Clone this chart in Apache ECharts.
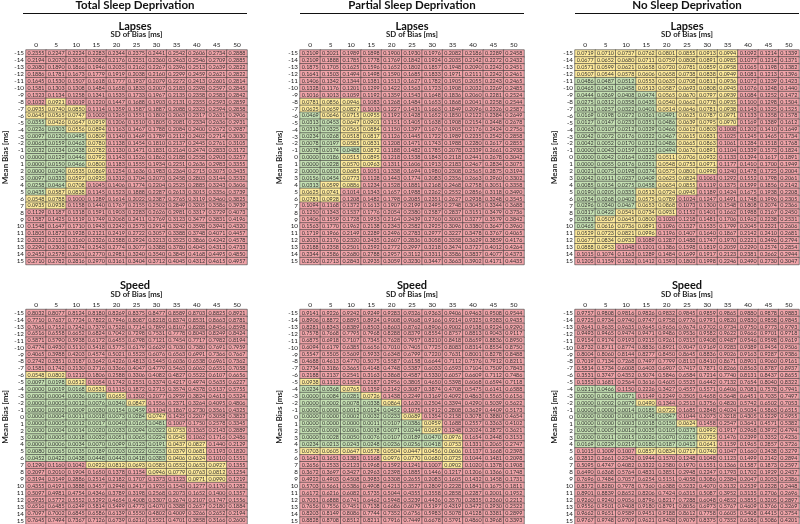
<!DOCTYPE html>
<html><head><meta charset="utf-8">
<script src="https://cdn.jsdelivr.net/npm/echarts@6/dist/echarts.min.js"></script>
<style>html,body{margin:0;padding:0;background:#fff}#c{width:800px;height:524px}</style>
</head><body><div id="c"></div>
<script>
const sdBias = ['0','5','10','15','20','25','30','35','40','45','50'];
const meanBias = ['-15','-14','-13','-12','-11','-10','-9','-8','-7','-6','-5','-4','-3','-2','-1','0','1','2','3','4','5','6','7','8','9','10','11','12','13','14','15'];
const groupTitles = ['Total Sleep Deprivation','Partial Sleep Deprivation','No Sleep Deprivation'];
const measureTitles = ['Lapses','Speed'];

// ---------- Total Sleep Deprivation : Lapses ----------
const tsdLapses = [
[0.2355,0.2247,0.2224,0.2283,0.2344,0.2375,0.2441,0.2542,0.2606,0.2734,0.2888],
[0.2194,0.2070,0.2051,0.2086,0.2176,0.2251,0.2360,0.2463,0.2546,0.2709,0.2885],
[0.2080,0.1890,0.1866,0.1946,0.2035,0.2162,0.2267,0.2396,0.2513,0.2639,0.2822],
[0.1886,0.1781,0.1673,0.1779,0.1919,0.2038,0.2160,0.2299,0.2459,0.2621,0.2822],
[0.1645,0.1530,0.1507,0.1618,0.1777,0.1937,0.2079,0.2272,0.2413,0.2601,0.2814],
[0.1581,0.1303,0.1308,0.1484,0.1658,0.1833,0.2007,0.2183,0.2398,0.2597,0.2845],
[0.1323,0.1134,0.1258,0.1341,0.1535,0.1733,0.1967,0.2135,0.2358,0.2583,0.2842],
[0.1032,0.0921,0.1019,0.1220,0.1447,0.1688,0.1903,0.2131,0.2355,0.2593,0.2859],
[0.0935,0.0740,0.0850,0.1114,0.1359,0.1587,0.1887,0.2088,0.2323,0.2594,0.2858],
[0.0645,0.0565,0.0747,0.1002,0.1265,0.1551,0.1802,0.2063,0.2317,0.2631,0.2906],
[0.0355,0.0426,0.0647,0.0919,0.1206,0.1510,0.1805,0.2081,0.2334,0.2636,0.2931],
[0.0226,0.0303,0.0556,0.0894,0.1163,0.1467,0.1788,0.2084,0.2400,0.2672,0.2987],
[0.0097,0.0120,0.0495,0.0809,0.1140,0.1469,0.1789,0.2112,0.2402,0.2714,0.3030],
[0.0065,0.0159,0.0463,0.0780,0.1138,0.1454,0.1810,0.2137,0.2445,0.2761,0.3105],
[0.0032,0.0134,0.0438,0.0782,0.1130,0.1471,0.1831,0.2164,0.2474,0.2833,0.3172],
[0.0000,0.0129,0.0446,0.0792,0.1143,0.1526,0.1862,0.2188,0.2558,0.2903,0.3257],
[0.0000,0.0150,0.0466,0.0800,0.1183,0.1555,0.1934,0.2251,0.2636,0.2983,0.3355],
[0.0000,0.0240,0.0535,0.0869,0.1254,0.1636,0.1983,0.2364,0.2715,0.3075,0.3435],
[0.0097,0.0333,0.0597,0.0935,0.1312,0.1704,0.2073,0.2458,0.2803,0.3144,0.3532],
[0.0258,0.0464,0.0708,0.1045,0.1406,0.1774,0.2204,0.2525,0.2885,0.3243,0.3606],
[0.0435,0.0587,0.0838,0.1145,0.1523,0.1888,0.2287,0.2613,0.3015,0.3356,0.3739],
[0.0548,0.0788,0.1000,0.1289,0.1614,0.2022,0.2387,0.2765,0.3119,0.3460,0.3825],
[0.0935,0.0938,0.1158,0.1440,0.1767,0.2155,0.2502,0.2849,0.3205,0.3586,0.3939],
[0.1129,0.1187,0.1318,0.1591,0.1903,0.2283,0.2626,0.2981,0.3317,0.3729,0.4073],
[0.1387,0.1425,0.1519,0.1749,0.2068,0.2411,0.2769,0.3123,0.3477,0.3831,0.4196],
[0.1548,0.1647,0.1710,0.1943,0.2242,0.2573,0.2914,0.3242,0.3598,0.3941,0.4320],
[0.1805,0.1872,0.1928,0.2121,0.2419,0.2722,0.3057,0.3388,0.3748,0.4071,0.4457],
[0.2032,0.2131,0.2160,0.2326,0.2588,0.2924,0.3213,0.3525,0.3866,0.4242,0.4578],
[0.2290,0.2303,0.2374,0.2543,0.2774,0.3077,0.3388,0.3780,0.4045,0.4313,0.4733],
[0.2452,0.2578,0.2601,0.2770,0.2981,0.3240,0.3540,0.3845,0.4168,0.4495,0.4850],
[0.2710,0.2782,0.2816,0.2970,0.3161,0.3404,0.3712,0.4045,0.4312,0.4615,0.4957]];
const tsdLapsesClass = ['RRRRRRRRRRR','RRRRRRRRRRR','RRRRRRRRRRR','RRRRRRRRRRR','RRRRRRRRRRR','RRRRRRRRRRR','RRRRRRRRRRR',
'RYRRRRRRRRR','YYYRRRRRRRR','YYYRRRRRRRR','GYYYRRRRRRR','GGYYRRRRRRR','GGGYRRRRRRR','GGGYRRRRRRR','GGGYRRRRRRR',
'GGGYRRRRRRR','GGGYRRRRRRR','GGYYRRRRRRR','GGYYRRRRRRR','GGYRRRRRRRR','GYYRRRRRRRR','YYRRRRRRRRR','YYRRRRRRRRR',
'RRRRRRRRRRR','RRRRRRRRRRR','RRRRRRRRRRR','RRRRRRRRRRR','RRRRRRRRRRR','RRRRRRRRRRR','RRRRRRRRRRR','RRRRRRRRRRR'];

// ---------- Partial Sleep Deprivation : Lapses ----------
const psdLapses = [
[0.2109,0.2021,0.1989,0.1898,0.1900,0.1930,0.1976,0.2082,0.2186,0.2289,0.2458],
[0.2109,0.1888,0.1785,0.1778,0.1769,0.1842,0.1924,0.2035,0.2142,0.2272,0.2432],
[0.1875,0.1705,0.1625,0.1596,0.1652,0.1802,0.1857,0.1948,0.2090,0.2242,0.2451],
[0.1641,0.1503,0.1494,0.1498,0.1590,0.1685,0.1833,0.1971,0.2111,0.2242,0.2461],
[0.1406,0.1342,0.1344,0.1381,0.1513,0.1627,0.1782,0.1905,0.2055,0.2243,0.2465],
[0.1328,0.1176,0.1201,0.1299,0.1422,0.1563,0.1723,0.1908,0.2032,0.2269,0.2485],
[0.1016,0.1013,0.1059,0.1192,0.1359,0.1543,0.1648,0.1836,0.2060,0.2281,0.2524],
[0.0781,0.0856,0.0946,0.1083,0.1268,0.1484,0.1653,0.1868,0.2041,0.2258,0.2544],
[0.0625,0.0659,0.0827,0.1013,0.1227,0.1431,0.1663,0.1849,0.2096,0.2326,0.2587],
[0.0469,0.0646,0.0715,0.0955,0.1192,0.1428,0.1652,0.1850,0.2122,0.2384,0.2649],
[0.0313,0.0453,0.0647,0.0901,0.1151,0.1405,0.1638,0.1908,0.2154,0.2448,0.2678],
[0.0313,0.0325,0.0565,0.0884,0.1150,0.1397,0.1676,0.1905,0.2176,0.2424,0.2756],
[0.0234,0.0268,0.0518,0.0817,0.1126,0.1445,0.1722,0.1989,0.2235,0.2542,0.2858],
[0.0078,0.0197,0.0585,0.0831,0.1208,0.1471,0.1743,0.1988,0.2280,0.2617,0.2855],
[0.0078,0.0174,0.0488,0.0872,0.1188,0.1482,0.1785,0.2078,0.2339,0.2661,0.2938],
[0.0000,0.0186,0.0515,0.0895,0.1218,0.1538,0.1843,0.2118,0.2441,0.2678,0.3042],
[0.0000,0.0228,0.0570,0.0963,0.1311,0.1606,0.1913,0.2183,0.2467,0.2834,0.3075],
[0.0000,0.0310,0.0685,0.1051,0.1338,0.1694,0.1980,0.2308,0.2565,0.2875,0.3194],
[0.0156,0.0454,0.0773,0.1128,0.1443,0.1774,0.2083,0.2356,0.2663,0.2960,0.3302],
[0.0313,0.0599,0.0886,0.1234,0.1528,0.1881,0.2168,0.2468,0.2758,0.3051,0.3358],
[0.0625,0.0741,0.1014,0.1343,0.1657,0.1988,0.2262,0.2552,0.2856,0.3118,0.3490],
[0.0781,0.0928,0.1208,0.1482,0.1798,0.2085,0.2351,0.2627,0.2938,0.3248,0.3545],
[0.1094,0.1168,0.1372,0.1613,0.1907,0.2199,0.2495,0.2748,0.3045,0.3344,0.3688],
[0.1250,0.1343,0.1537,0.1776,0.2054,0.2380,0.2587,0.2837,0.3151,0.3479,0.3736],
[0.1406,0.1559,0.1728,0.1953,0.2164,0.2439,0.2760,0.3003,0.3277,0.3579,0.3842],
[0.1563,0.1770,0.1962,0.2138,0.2343,0.2582,0.2925,0.3096,0.3380,0.3647,0.3960],
[0.1719,0.1966,0.2149,0.2289,0.2496,0.2783,0.2977,0.3227,0.3478,0.3767,0.4065],
[0.2031,0.2176,0.2320,0.2435,0.2607,0.2836,0.3058,0.3358,0.3629,0.3859,0.4176],
[0.2188,0.2358,0.2501,0.2592,0.2772,0.2997,0.3218,0.3474,0.3727,0.4012,0.4264],
[0.2344,0.2586,0.2680,0.2788,0.2957,0.3112,0.3311,0.3586,0.3837,0.4077,0.4373],
[0.2500,0.2713,0.2843,0.2935,0.3059,0.3230,0.3447,0.3663,0.3902,0.4171,0.4435]];
const psdLapsesClass = ['RRRRRRRRRRR','RRRRRRRRRRR','RRRRRRRRRRR','RRRRRRRRRRR','RRRRRRRRRRR','RRRRRRRRRRR','RRRRRRRRRRR',
'YYYRRRRRRRR','YYYRRRRRRRR','GYYYRRRRRRR','GGYYRRRRRRR','GGYYRRRRRRR','GGYYRRRRRRR','GGYYRRRRRRR','GGGYRRRRRRR',
'GGYYRRRRRRR','GGYYRRRRRRR','GGYRRRRRRRR','GGYRRRRRRRR','GYYRRRRRRRR','YYRRRRRRRRR','YYRRRRRRRRR','RRRRRRRRRRR',
'RRRRRRRRRRR','RRRRRRRRRRR','RRRRRRRRRRR','RRRRRRRRRRR','RRRRRRRRRRR','RRRRRRRRRRR','RRRRRRRRRRR','RRRRRRRRRRR'];

// ---------- No Sleep Deprivation : Lapses ----------
const nsdLapses = [
[0.0719,0.0710,0.0737,0.0762,0.0801,0.0855,0.0913,0.0994,0.1092,0.1214,0.1339],
[0.0677,0.0652,0.0680,0.0711,0.0759,0.0808,0.0891,0.0985,0.1077,0.1214,0.1371],
[0.0571,0.0599,0.0621,0.0658,0.0720,0.0781,0.0859,0.0958,0.1065,0.1198,0.1382],
[0.0507,0.0544,0.0578,0.0606,0.0658,0.0738,0.0838,0.0949,0.1081,0.1213,0.1396],
[0.0486,0.0487,0.0512,0.0553,0.0635,0.0708,0.0811,0.0936,0.1072,0.1239,0.1423],
[0.0465,0.0431,0.0458,0.0513,0.0587,0.0693,0.0808,0.0945,0.1076,0.1248,0.1440],
[0.0444,0.0369,0.0408,0.0474,0.0565,0.0670,0.0797,0.0939,0.1084,0.1252,0.1472],
[0.0275,0.0312,0.0358,0.0435,0.0540,0.0662,0.0778,0.0935,0.1100,0.1298,0.1504],
[0.0211,0.0257,0.0322,0.0401,0.0514,0.0646,0.0781,0.0938,0.1143,0.1325,0.1525],
[0.0169,0.0198,0.0272,0.0361,0.0491,0.0625,0.0787,0.0971,0.1133,0.1358,0.1578],
[0.0127,0.0147,0.0233,0.0351,0.0486,0.0639,0.0795,0.0970,0.1169,0.1389,0.1612],
[0.0063,0.0107,0.0212,0.0329,0.0466,0.0612,0.0803,0.1008,0.1202,0.1410,0.1649],
[0.0042,0.0072,0.0176,0.0322,0.0467,0.0615,0.0831,0.1025,0.1245,0.1465,0.1734],
[0.0042,0.0052,0.0170,0.0312,0.0486,0.0665,0.0863,0.1061,0.1284,0.1518,0.1768],
[0.0000,0.0043,0.0159,0.0315,0.0494,0.0676,0.0891,0.1104,0.1339,0.1573,0.1824],
[0.0000,0.0042,0.0164,0.0323,0.0511,0.0706,0.0932,0.1133,0.1394,0.1617,0.1891],
[0.0000,0.0055,0.0176,0.0351,0.0548,0.0753,0.0971,0.1177,0.1410,0.1700,0.1949],
[0.0021,0.0075,0.0198,0.0374,0.0575,0.0801,0.0998,0.1240,0.1478,0.1725,0.2004],
[0.0042,0.0111,0.0237,0.0409,0.0625,0.0824,0.1061,0.1292,0.1552,0.1798,0.2061],
[0.0085,0.0154,0.0275,0.0458,0.0654,0.0855,0.1119,0.1375,0.1599,0.1856,0.2142],
[0.0190,0.0205,0.0335,0.0513,0.0724,0.0945,0.1189,0.1424,0.1675,0.1938,0.2208],
[0.0254,0.0268,0.0402,0.0575,0.0789,0.1024,0.1247,0.1491,0.1748,0.1996,0.2305],
[0.0296,0.0340,0.0467,0.0653,0.0868,0.1073,0.1300,0.1548,0.1808,0.2074,0.2366],
[0.0317,0.0422,0.0541,0.0734,0.0931,0.1152,0.1401,0.1662,0.1988,0.2167,0.2450],
[0.0381,0.0507,0.0645,0.0800,0.1020,0.1218,0.1481,0.1706,0.1962,0.2238,0.2531],
[0.0465,0.0616,0.0736,0.0891,0.1096,0.1327,0.1535,0.1799,0.2045,0.2321,0.2606],
[0.0529,0.0723,0.0821,0.0996,0.1196,0.1407,0.1640,0.1867,0.2142,0.2410,0.2681],
[0.0677,0.0834,0.0933,0.1089,0.1287,0.1488,0.1747,0.1970,0.2221,0.2496,0.2794],
[0.0888,0.0953,0.1048,0.1201,0.1386,0.1598,0.1819,0.2059,0.2290,0.2574,0.2854],
[0.1015,0.1074,0.1163,0.1289,0.1484,0.1699,0.1917,0.2123,0.2381,0.2662,0.2944],
[0.1205,0.1159,0.1262,0.1412,0.1593,0.1803,0.1998,0.2246,0.2490,0.2730,0.3047]];
const nsdLapsesClass = ['YYYYYYYYRRR','YYYYYYYYRRR','YYYYYYYYRRR','YYYYYYYYRRR','GGGYYYYYRRR','GGGYYYYYRRR','GGGGYYYYRRR',
'GGGGYYYYRRR','GGGGYYYYRRR','GGGGGYYYRRR','GGGGGYYYRRR','GGGGGYYRRRR','GGGGGYYRRRR','GGGGGYYRRRR','GGGGGYYRRRR',
'GGGGYYYRRRR','GGGGYYYRRRR','GGGGYYYRRRR','GGGGYYRRRRR','GGGGYYRRRRR','GGGYYYRRRRR','GGGYYRRRRRR','GGGYYRRRRRR',
'GGYYYRRRRRR','GYYYRRRRRRR','GYYYRRRRRRR','YYYYRRRRRRR','YYYRRRRRRRR','YYRRRRRRRRR','RRRRRRRRRRR','RRRRRRRRRRR'];

// ---------- Total Sleep Deprivation : Speed ----------
const tsdSpeed = [
[0.8032,0.8077,0.8124,0.8180,0.8269,0.8375,0.8477,0.8589,0.8703,0.8825,0.8921],
[0.7710,0.7637,0.7724,0.7822,0.7946,0.8087,0.8218,0.8374,0.8531,0.8663,0.8781],
[0.7065,0.7152,0.7242,0.7379,0.7528,0.7714,0.7899,0.8107,0.8288,0.8456,0.8598],
[0.6516,0.6558,0.6652,0.6824,0.7042,0.7298,0.7531,0.7778,0.8043,0.8249,0.8424],
[0.5871,0.5790,0.5938,0.6172,0.6455,0.6798,0.7121,0.7454,0.7717,0.7982,0.8194],
[0.4774,0.4930,0.5110,0.5418,0.5775,0.6179,0.6629,0.7030,0.7380,0.7691,0.7959],
[0.4065,0.3988,0.4203,0.4574,0.5021,0.5523,0.6076,0.6563,0.6991,0.7366,0.7667],
[0.2742,0.2851,0.3187,0.3642,0.4226,0.4813,0.5445,0.6036,0.6538,0.6961,0.7362],
[0.1581,0.1742,0.2130,0.2716,0.3366,0.4047,0.4779,0.5463,0.6062,0.6551,0.7058],
[0.0548,0.0802,0.1212,0.1806,0.2588,0.3306,0.4082,0.4827,0.5522,0.6107,0.6656],
[0.0097,0.0198,0.0512,0.1054,0.1742,0.2551,0.3374,0.4217,0.4974,0.5635,0.6227],
[0.0000,0.0019,0.0168,0.0531,0.1115,0.1872,0.2715,0.3574,0.4378,0.5137,0.5755],
[0.0000,0.0004,0.0036,0.0219,0.0655,0.1302,0.2077,0.2959,0.3824,0.4613,0.5324],
[0.0000,0.0005,0.0012,0.0076,0.0340,0.0847,0.1556,0.2371,0.3264,0.4095,0.4806],
[0.0000,0.0002,0.0009,0.0030,0.0154,0.0459,0.1104,0.1867,0.2730,0.3561,0.4325],
[0.0000,0.0004,0.0011,0.0018,0.0073,0.0284,0.0747,0.1425,0.2207,0.3058,0.3823],
[0.0000,0.0005,0.0012,0.0017,0.0040,0.0165,0.0481,0.1007,0.1750,0.2578,0.3345],
[0.0000,0.0004,0.0014,0.0020,0.0033,0.0094,0.0322,0.0753,0.1365,0.2143,0.2889],
[0.0000,0.0005,0.0018,0.0032,0.0051,0.0065,0.0224,0.0545,0.1062,0.1716,0.2486],
[0.0000,0.0006,0.0034,0.0070,0.0099,0.0123,0.0191,0.0437,0.0827,0.1440,0.2129],
[0.0080,0.0065,0.0135,0.0189,0.0203,0.0222,0.0253,0.0379,0.0681,0.1193,0.1820],
[0.0452,0.0422,0.0438,0.0448,0.0443,0.0418,0.0383,0.0406,0.0624,0.1010,0.1551],
[0.1290,0.1160,0.1042,0.0922,0.0812,0.0693,0.0585,0.0552,0.0653,0.0927,0.1355],
[0.2097,0.2010,0.1904,0.1650,0.1378,0.1154,0.0946,0.0779,0.0763,0.0812,0.1254],
[0.3194,0.3149,0.2886,0.2514,0.2182,0.1707,0.1373,0.1123,0.0971,0.0990,0.1219],
[0.4355,0.4191,0.3888,0.3457,0.2948,0.2417,0.1935,0.1543,0.1277,0.1170,0.1282],
[0.5097,0.4981,0.4754,0.4346,0.3789,0.3198,0.2568,0.2073,0.1652,0.1400,0.1357],
[0.5935,0.5772,0.5552,0.5292,0.4654,0.4008,0.3307,0.2674,0.2107,0.1747,0.1556],
[0.6516,0.6485,0.6249,0.5814,0.5499,0.4773,0.4070,0.3388,0.2657,0.2180,0.1884],
[0.7097,0.7002,0.6845,0.6586,0.6139,0.5550,0.4802,0.4009,0.3266,0.2652,0.2194],
[0.7645,0.7494,0.7367,0.7126,0.6739,0.6216,0.5521,0.4701,0.3858,0.3166,0.2600]];
const tsdSpeedClass = ['RRRRRRRRRRR','RRRRRRRRRRR','RRRRRRRRRRR','RRRRRRRRRRR','RRRRRRRRRRR','RRRRRRRRRRR','RRRRRRRRRRR',
'RRRRRRRRRRR','RRRRRRRRRRR','YYRRRRRRRRR','GGYRRRRRRRR','GGGYRRRRRRR','GGGGYRRRRRR','GGGGGYRRRRR','GGGGGGRRRRR',
'GGGGGGYRRRR','GGGGGGGRRRR','GGGGGGGYRRR','GGGGGGGYRRR','GGGGGGGYYRR','GGGGGGGYYRR','GGGGGGGYYRR','RRRYYYYYYYR',
'RRRRRRYYYYR','RRRRRRRRYYR','RRRRRRRRRRR','RRRRRRRRRRR','RRRRRRRRRRR','RRRRRRRRRRR','RRRRRRRRRRR','RRRRRRRRRRR'];

// ---------- Partial Sleep Deprivation : Speed ----------
const psdSpeed = [
[0.9141,0.9226,0.9242,0.9249,0.9283,0.9326,0.9363,0.9406,0.9463,0.9508,0.9544],
[0.8906,0.8872,0.8895,0.8924,0.9008,0.9068,0.9166,0.9214,0.9325,0.9383,0.9435],
[0.8281,0.8343,0.8389,0.8503,0.8603,0.8762,0.8906,0.9002,0.9138,0.9224,0.9290],
[0.7578,0.7668,0.7795,0.7968,0.8288,0.8379,0.8554,0.8757,0.8813,0.9043,0.9117],
[0.6875,0.6918,0.7107,0.7345,0.7628,0.7957,0.8210,0.8418,0.8659,0.8836,0.8950],
[0.6094,0.6179,0.6385,0.6656,0.7010,0.7405,0.7725,0.8083,0.8314,0.8554,0.8750],
[0.5547,0.5505,0.5609,0.5933,0.6348,0.6799,0.7220,0.7631,0.8001,0.8278,0.8488],
[0.4688,0.4613,0.4770,0.5075,0.5587,0.6158,0.6644,0.7112,0.7576,0.7912,0.8211],
[0.2734,0.3186,0.3665,0.4148,0.4748,0.5387,0.6033,0.6593,0.7104,0.7509,0.7843],
[0.2188,0.2137,0.2541,0.3163,0.3868,0.4587,0.5330,0.6057,0.6609,0.7112,0.7486],
[0.0938,0.1112,0.1554,0.2187,0.2956,0.3805,0.4650,0.5398,0.6068,0.6594,0.7118],
[0.0234,0.0368,0.0765,0.1359,0.2142,0.3087,0.3874,0.4708,0.5475,0.6141,0.6588],
[0.0000,0.0084,0.0281,0.0726,0.1438,0.2249,0.3169,0.4092,0.4863,0.5565,0.6156],
[0.0000,0.0002,0.0078,0.0338,0.0864,0.1620,0.2504,0.3394,0.4290,0.5039,0.5622],
[0.0000,0.0000,0.0012,0.0124,0.0452,0.1075,0.1912,0.2808,0.3629,0.4409,0.5173],
[0.0000,0.0000,0.0002,0.0032,0.0233,0.0689,0.1354,0.2158,0.3078,0.3880,0.4654],
[0.0000,0.0000,0.0000,0.0011,0.0107,0.0386,0.0959,0.1688,0.2557,0.3363,0.4102],
[0.0000,0.0000,0.0006,0.0018,0.0071,0.0244,0.0659,0.1248,0.2024,0.2872,0.3621],
[0.0000,0.0028,0.0050,0.0076,0.0107,0.0189,0.0470,0.0976,0.1654,0.2448,0.3153],
[0.0234,0.0213,0.0243,0.0248,0.0236,0.0256,0.0418,0.0753,0.1331,0.2065,0.2747],
[0.0703,0.0605,0.0647,0.0578,0.0504,0.0447,0.0456,0.0606,0.1137,0.1668,0.2398],
[0.1641,0.1651,0.1381,0.1168,0.0976,0.0770,0.0680,0.0725,0.1044,0.1481,0.2098],
[0.2656,0.2533,0.2123,0.1968,0.1592,0.1241,0.1007,0.0902,0.1020,0.1378,0.1908],
[0.3672,0.3697,0.3427,0.2963,0.2398,0.1885,0.1446,0.1217,0.1206,0.1366,0.1748],
[0.4922,0.4903,0.4508,0.3983,0.3308,0.2655,0.2083,0.1605,0.1432,0.1458,0.1731],
[0.5703,0.5661,0.5386,0.4908,0.4213,0.3527,0.2809,0.2228,0.1841,0.1675,0.1811],
[0.6172,0.6216,0.6082,0.5735,0.5044,0.4355,0.3558,0.2858,0.2287,0.2001,0.1952],
[0.7031,0.6888,0.6741,0.6462,0.5948,0.5239,0.4436,0.3570,0.2835,0.2360,0.2212],
[0.7656,0.7556,0.7451,0.7138,0.6686,0.6079,0.5197,0.4319,0.3472,0.2930,0.2522],
[0.8203,0.8149,0.8086,0.7744,0.7352,0.6756,0.5983,0.5078,0.4128,0.3381,0.2899],
[0.8828,0.8708,0.8512,0.8211,0.7916,0.7449,0.6678,0.5791,0.4860,0.3968,0.3393]];
const psdSpeedClass = ['RRRRRRRRRRR','RRRRRRRRRRR','RRRRRRRRRRR','RRRRRRRRRRR','RRRRRRRRRRR','RRRRRRRRRRR','RRRRRRRRRRR',
'RRRRRRRRRRR','RRRRRRRRRRR','RRRRRRRRRRR','YRRRRRRRRRR','GGYRRRRRRRR','GGGYRRRRRRR','GGGGYRRRRRR','GGGGGRRRRRR',
'GGGGGYRRRRR','GGGGGGYRRRR','GGGGGGYRRRR','GGGGGGGYRRR','GGGGGGGYRRR','YYYYYYYYRRR','RRRRYYYYRRR','RRRRRRRYRRR',
'RRRRRRRRRRR','RRRRRRRRRRR','RRRRRRRRRRR','RRRRRRRRRRR','RRRRRRRRRRR','RRRRRRRRRRR','RRRRRRRRRRR','RRRRRRRRRRR'];

// ---------- No Sleep Deprivation : Speed ----------
const nsdSpeed = [
[0.9757,0.9808,0.9816,0.9826,0.9832,0.9845,0.9859,0.9865,0.9880,0.9878,0.9883],
[0.9725,0.9734,0.9740,0.9747,0.9758,0.9776,0.9791,0.9820,0.9830,0.9858,0.9845],
[0.9641,0.9635,0.9635,0.9645,0.9656,0.9674,0.9702,0.9734,0.9750,0.9773,0.9793],
[0.9493,0.9465,0.9474,0.9471,0.9486,0.9536,0.9582,0.9622,0.9666,0.9701,0.9718],
[0.9154,0.9174,0.9193,0.9215,0.9261,0.9315,0.9408,0.9487,0.9546,0.9598,0.9619],
[0.8732,0.8711,0.8774,0.8836,0.8921,0.9047,0.9169,0.9283,0.9389,0.9454,0.9506],
[0.8004,0.8060,0.8144,0.8277,0.8450,0.8645,0.8836,0.9026,0.9163,0.9287,0.9386],
[0.7019,0.7134,0.7268,0.7497,0.7799,0.8113,0.8410,0.8671,0.8901,0.9060,0.9161],
[0.5814,0.5734,0.6008,0.6403,0.6907,0.7417,0.7871,0.8266,0.8563,0.8787,0.8937],
[0.3531,0.3747,0.4352,0.5074,0.5846,0.6584,0.7214,0.7740,0.8131,0.8437,0.8655],
[0.1353,0.1681,0.2564,0.3616,0.4605,0.5525,0.6442,0.7132,0.7654,0.8040,0.8322],
[0.0211,0.0466,0.1150,0.2226,0.3427,0.4557,0.5571,0.6406,0.7081,0.7578,0.7941],
[0.0000,0.0061,0.0371,0.1149,0.2249,0.3505,0.4658,0.5648,0.6451,0.7035,0.7497],
[0.0000,0.0002,0.0079,0.0490,0.1344,0.2513,0.3756,0.4820,0.5742,0.6502,0.7053],
[0.0000,0.0000,0.0014,0.0185,0.0722,0.1685,0.2848,0.4024,0.5034,0.5863,0.6515],
[0.0000,0.0000,0.0001,0.0048,0.0347,0.1044,0.2073,0.3218,0.4305,0.5229,0.5955],
[0.0000,0.0000,0.0003,0.0018,0.0150,0.0624,0.1458,0.2547,0.3641,0.4571,0.5382],
[0.0000,0.0005,0.0016,0.0035,0.0105,0.0373,0.0992,0.1917,0.2968,0.3972,0.4794],
[0.0000,0.0011,0.0015,0.0026,0.0070,0.0215,0.0725,0.1476,0.2399,0.3352,0.4236],
[0.0169,0.0229,0.0219,0.0180,0.0187,0.0413,0.0641,0.1159,0.1965,0.2857,0.3726],
[0.1015,0.1009,0.1007,0.0857,0.0834,0.0717,0.0740,0.1047,0.1660,0.2438,0.3279],
[0.2812,0.2661,0.2342,0.1944,0.1570,0.1248,0.1048,0.1123,0.1499,0.2142,0.2894],
[0.5095,0.4747,0.4082,0.3322,0.2580,0.1970,0.1551,0.1366,0.1587,0.1873,0.2597],
[0.6490,0.6368,0.5764,0.4831,0.3851,0.2948,0.2247,0.1793,0.1702,0.1929,0.2437],
[0.7696,0.7484,0.7057,0.6254,0.5151,0.4058,0.3086,0.2384,0.2047,0.2053,0.2386],
[0.8372,0.8280,0.7978,0.7360,0.6388,0.5232,0.4070,0.3132,0.2539,0.2328,0.2448],
[0.8901,0.8839,0.8652,0.8206,0.7424,0.6315,0.5087,0.3952,0.3135,0.2706,0.2696],
[0.9260,0.9240,0.9056,0.8796,0.8217,0.7288,0.6048,0.4852,0.3855,0.3205,0.2897],
[0.9556,0.9501,0.9408,0.9180,0.8791,0.8056,0.6973,0.5767,0.4609,0.3766,0.3269],
[0.9662,0.9651,0.9589,0.9451,0.9188,0.8612,0.7758,0.6605,0.5408,0.4415,0.3754],
[0.9767,0.9748,0.9709,0.9621,0.9438,0.9079,0.8375,0.7352,0.6186,0.5086,0.4201]];
const nsdSpeedClass = ['RRRRRRRRRRR','RRRRRRRRRRR','RRRRRRRRRRR','RRRRRRRRRRR','RRRRRRRRRRR','RRRRRRRRRRR','RRRRRRRRRRR',
'RRRRRRRRRRR','RRRRRRRRRRR','RRRRRRRRRRR','RRRRRRRRRRR','GGRRRRRRRRR','GGGRRRRRRRR','GGGYRRRRRRR','GGGGYRRRRRR',
'GGGGGRRRRRR','GGGGGYRRRRR','GGGGGGYRRRR','GGGGGGYRRRR','GGGGGGYRRRR','RRRYYYYRRRR','RRRRRRRRRRR','RRRRRRRRRRR',
'RRRRRRRRRRR','RRRRRRRRRRR','RRRRRRRRRRR','RRRRRRRRRRR','RRRRRRRRRRR','RRRRRRRRRRR','RRRRRRRRRRR','RRRRRRRRRRR'];

const panels = [
  {vals: tsdLapses, cls: tsdLapsesClass},
  {vals: psdLapses, cls: psdLapsesClass},
  {vals: nsdLapses, cls: nsdLapsesClass},
  {vals: tsdSpeed, cls: tsdSpeedClass},
  {vals: psdSpeed, cls: psdSpeedClass},
  {vals: nsdSpeed, cls: nsdSpeedClass}
];
const clsCode = {G: 0, Y: 1, R: 2};

const FONT = 'Lato';
const colLeft = [23, 300, 575];
const gridW = 224;
const rowTop = [50, 309.5];
const gridH = 214.5;

const grids = [], xAxes = [], yAxes = [], series = [], titles = [], graphics = [];
panels.forEach((p, i) => {
  const c = i % 3, r = Math.floor(i / 3);
  grids.push({left: colLeft[c], top: rowTop[r], width: gridW, height: gridH});
  xAxes.push({
    type: 'category', gridIndex: i, data: sdBias, position: 'top',
    name: 'SD of Bias [ms]', nameLocation: 'middle', nameGap: 11.5,
    nameTextStyle: {fontFamily: FONT, fontSize: 7.8, fontWeight: 'bold', color: '#222'},
    axisLine: {show: false}, axisTick: {show: false},
    axisLabel: {fontFamily: FONT, fontSize: 6.5, color: '#222', margin: 1.5, interval: 0},
    splitLine: {show: false}
  });
  yAxes.push({
    type: 'category', gridIndex: i, data: meanBias, inverse: true,
    name: 'Mean Bias [ms]', nameLocation: 'middle', nameGap: 17, nameRotate: 90,
    nameTextStyle: {fontFamily: FONT, fontSize: 8, fontWeight: 'bold', color: '#222'},
    axisLine: {show: false}, axisTick: {show: false},
    axisLabel: {fontFamily: FONT, fontSize: 6.3, color: '#222', margin: 2, interval: 0},
    splitLine: {show: false}
  });
  const data = [];
  p.vals.forEach((row, yi) => row.forEach((v, xi) => {
    data.push([xi, yi, v, clsCode[p.cls[yi][xi]]]);
  }));
  series.push({
    type: 'heatmap', xAxisIndex: i, yAxisIndex: i, data: data,
    itemStyle: {borderColor: '#3c3c3c', borderWidth: 0.6},
    label: {show: true, fontFamily: FONT, fontSize: 5.4, color: '#333',
      formatter: q => q.value[2].toFixed(4)},
    emphasis: {disabled: true}
  });
  titles.push({
    text: measureTitles[r], left: colLeft[c] + gridW / 2, top: r === 0 ? 20.5 : 280,
    textAlign: 'center', padding: 0,
    textStyle: {fontFamily: FONT, fontSize: 11, fontWeight: 'bold', color: '#111'}
  });
});
groupTitles.forEach((t, c) => {
  titles.push({
    text: t, left: colLeft[c] + gridW / 2, top: -0.5, textAlign: 'center', padding: 0,
    textStyle: {fontFamily: FONT, fontSize: 11.5, fontWeight: 'bold', color: '#111'}
  });
  graphics.push({type: 'line', shape: {x1: colLeft[c], y1: 13.5, x2: colLeft[c] + gridW, y2: 13.5},
    style: {stroke: '#111', lineWidth: 1.2}});
});

const chart = echarts.init(document.getElementById('c'), null, {renderer: 'canvas'});
chart.setOption({
  animation: false,
  backgroundColor: '#ffffff',
  title: titles,
  grid: grids,
  xAxis: xAxes,
  yAxis: yAxes,
  visualMap: {
    type: 'piecewise', show: false, dimension: 3, seriesIndex: [0,1,2,3,4,5],
    pieces: [
      {value: 0, color: '#c4dfb2'},
      {value: 1, color: '#fde99b'},
      {value: 2, color: '#f0a3a8'}
    ]
  },
  graphic: graphics,
  series: series
});
</script>
</body></html>
